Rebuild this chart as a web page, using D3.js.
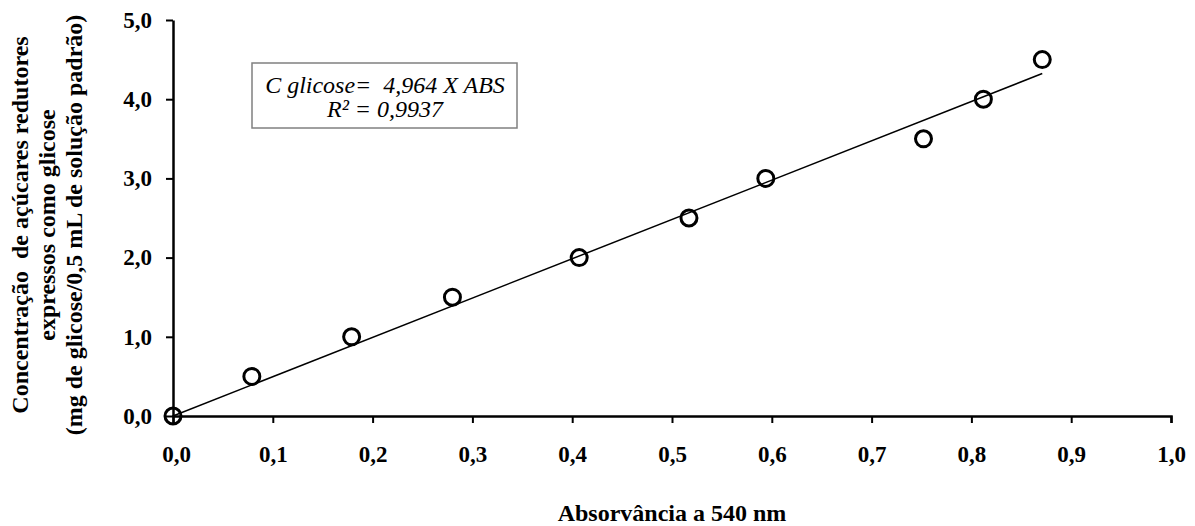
<!DOCTYPE html>
<html>
<head>
<meta charset="utf-8">
<script src="https://cdn.jsdelivr.net/npm/d3@7"></script>
<style>
  html, body { margin: 0; padding: 0; background: #fff; }
  svg { display: block; font-family: "Liberation Serif", "Times New Roman", serif; }
  .tick text { font-weight: bold; font-size: 23px; fill: #000; }
  .axis-title { font-weight: bold; font-size: 24px; }
</style>
</head>
<body>
<div id="chart"></div>
<script>
// absorbance readings and glucose standard concentrations
const absorbance = [0, 0.079, 0.179, 0.280, 0.407, 0.517, 0.594, 0.752, 0.812, 0.871];
const concentration = [0, 0.5, 1.0, 1.5, 2.0, 2.5, 3.0, 3.5, 4.0, 4.5];
const slope = 4.964;
const xTicks = [0, 0.1, 0.2, 0.3, 0.4, 0.5, 0.6, 0.7, 0.8, 0.9, 1.0];
const yTicks = [0, 1, 2, 3, 4, 5];
const yTitleLines = [
    "Concentração  de açúcares redutores",
    "expressos como glicose",
    "(mg de glicose/0,5 mL de solução padrão)"
];

const width = 1195, height = 526;
const margin = { top: 20, right: 24, bottom: 110, left: 173 };

const svg = d3.select("#chart").append("svg")
    .attr("width", width)
    .attr("height", height);

const x = d3.scaleLinear().domain([0, 1]).range([margin.left, width - margin.right]);
const y = d3.scaleLinear().domain([0, 5]).range([height - margin.bottom, margin.top]);

const fmt = d => d.toFixed(1).replace(".", ",");

const xAxis = svg.append("g")
    .attr("transform", `translate(0,${y(0)})`)
    .call(d3.axisBottom(x).tickValues(xTicks).tickFormat(fmt).tickSize(7).tickPadding(23).tickSizeOuter(7));

const yAxis = svg.append("g")
    .attr("transform", `translate(${x(0)},0)`)
    .call(d3.axisLeft(y).tickValues(yTicks).tickFormat(fmt).tickSize(7).tickPadding(14).tickSizeOuter(0));

[xAxis, yAxis].forEach(g => {
    g.select(".domain").attr("stroke", "#000").attr("stroke-width", 2.5);
    g.selectAll(".tick line").attr("stroke", "#000").attr("stroke-width", 2);
    g.attr("font-family", null).attr("font-size", null);
});
xAxis.selectAll(".tick text").filter(d => d === 0).attr("dx", 3);

// regression line through origin
const xEnd = d3.max(absorbance);
svg.append("line")
    .attr("x1", x(0)).attr("y1", y(0))
    .attr("x2", x(xEnd)).attr("y2", y(slope * xEnd))
    .attr("stroke", "#000")
    .attr("stroke-width", 1.5);

svg.selectAll("circle.pt")
    .data(absorbance.map((a, i) => ({ a, c: concentration[i] })))
    .enter().append("circle")
    .attr("class", "pt")
    .attr("cx", d => x(d.a))
    .attr("cy", d => y(d.c))
    .attr("r", 8)
    .attr("fill", "none")
    .attr("stroke", "#000")
    .attr("stroke-width", 3);

// equation box
svg.append("rect")
    .attr("x", 252).attr("y", 63)
    .attr("width", 265).attr("height", 65)
    .attr("fill", "#fff")
    .attr("stroke", "#808080")
    .attr("stroke-width", 1.5);

svg.append("text")
    .attr("x", 385).attr("y", 93)
    .attr("text-anchor", "middle")
    .attr("font-style", "italic")
    .attr("font-size", 24)
    .attr("xml:space", "preserve")
    .text("C glicose=  4,964 X ABS");

svg.append("text")
    .attr("x", 385).attr("y", 117)
    .attr("text-anchor", "middle")
    .attr("font-style", "italic")
    .attr("font-size", 24)
    .text("R² = 0,9937");

// axis titles
svg.append("text")
    .attr("class", "axis-title")
    .attr("x", x(0.5)).attr("y", 521)
    .attr("text-anchor", "middle")
    .text("Absorvância a 540 nm");

const yXs = [28, 55, 82];
yTitleLines.forEach((t, i) => {
    svg.append("text")
        .attr("class", "axis-title")
        .attr("text-anchor", "middle")
        .attr("xml:space", "preserve")
        .attr("transform", `translate(${yXs[i]},225) rotate(-90)`)
        .text(t);
});
</script>
</body>
</html>
